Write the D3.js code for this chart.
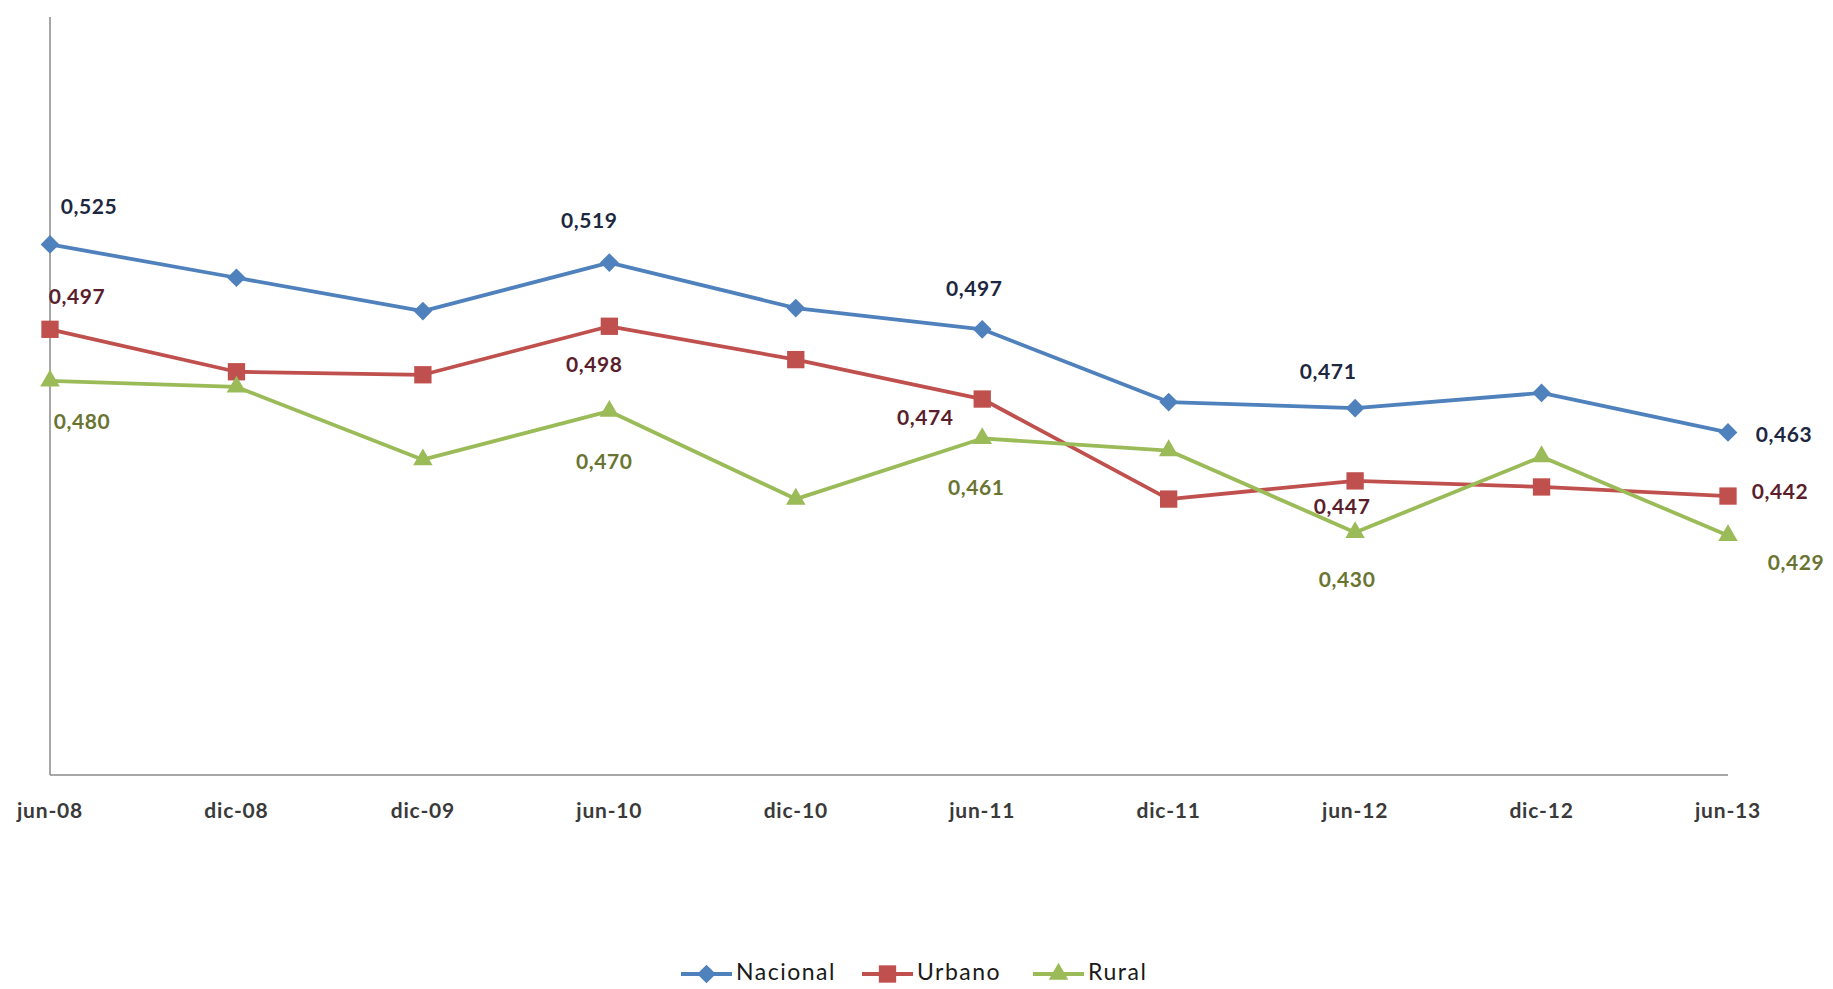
<!DOCTYPE html>
<html>
<head>
<meta charset="utf-8">
<script src="https://cdn.jsdelivr.net/npm/d3@7/dist/d3.min.js"></script>
<style>
  body { margin: 0; background: #fff; }
  svg { display: block; font-family: Lato, "Open Sans", sans-serif; }
</style>
</head>
<body>
<svg id="chart" width="1833" height="989"></svg>
<script>
var periods = ["jun-08", "dic-08", "dic-09", "jun-10", "dic-10", "jun-11", "dic-11", "jun-12", "dic-12", "jun-13"];
var nacional = [0.525, 0.514, 0.503, 0.519, 0.504, 0.497, 0.473, 0.471, 0.476, 0.463];
var urbano   = [0.497, 0.483, 0.482, 0.498, 0.487, 0.474, 0.441, 0.447, 0.445, 0.442];
var rural    = [0.480, 0.478, 0.454, 0.470, 0.441, 0.461, 0.457, 0.430, 0.455, 0.429];
var seriesNames = ["Nacional", "Urbano", "Rural"];
var labeledIdx = [0, 3, 5, 7, 9];

var svg = d3.select("#chart");
var plotLeft = 50, plotRight = 1728, plotTop = 17, plotBottom = 775;

var x = d3.scalePoint().domain(periods).range([plotLeft, plotRight]);
var y = d3.scaleLinear().domain([0.35, 0.6]).range([plotBottom, plotTop]);

var colors = ["#4F81BD", "#C0504D", "#9BBB59"];
var labelColors = ["#1c2740", "#5a1e2c", "#6a7431"];
var fmt = d3.formatLocale({ decimal: ",", thousands: ".", grouping: [3], currency: ["", ""] }).format(".3f");

// label offsets (dx, dy) relative to point, per series
var offsets = [
  [[39, -36], [-20, -40], [-8, -39], [-27, -35], [56, 4]],
  [[27, -31], [-15, 40], [-57, 21], [-13, 28], [52, -2]],
  [[32, 43], [-5, 52], [-6, 51], [-8, 49], [68, 29]]
];

var symbols = [
  d3.symbol().type(d3.symbolSquare).size(175),
  d3.symbol().type(d3.symbolSquare).size(300),
  d3.symbol().type(d3.symbolTriangle).size(165)
];
var rot = [45, 0, 0];

// axes
svg.append("line").attr("x1", plotLeft).attr("x2", plotLeft).attr("y1", plotTop).attr("y2", plotBottom)
  .attr("stroke", "#8a8a8a").attr("stroke-width", 1.5);
svg.append("line").attr("x1", plotLeft).attr("x2", plotRight).attr("y1", plotBottom).attr("y2", plotBottom)
  .attr("stroke", "#8a8a8a").attr("stroke-width", 1.5);

svg.selectAll(".tick-label")
  .data(periods)
  .enter()
  .append("text")
  .attr("class", "tick-label")
  .attr("x", function (d) { return x(d); })
  .attr("y", 813)
  .attr("text-anchor", "middle")
  .attr("dominant-baseline", "middle")
  .attr("font-size", "21px")
  .attr("font-weight", "bold")
  .attr("letter-spacing", "0.8px")
  .attr("fill", "#3a3a3a")
  .text(function (d) { return d; });

var allSeries = [nacional, urbano, rural];
var line = d3.line()
  .x(function (d, i) { return x(periods[i]); })
  .y(function (d) { return y(d); });

allSeries.forEach(function (vals, s) {
  var g = svg.append("g");
  g.append("path")
    .attr("d", line(vals))
    .attr("fill", "none")
    .attr("stroke", colors[s])
    .attr("stroke-width", 3.8)
    .attr("stroke-linejoin", "round");
  g.selectAll("path.marker")
    .data(vals)
    .enter()
    .append("path")
    .attr("class", "marker")
    .attr("d", symbols[s])
    .attr("transform", function (d, i) {
      return "translate(" + x(periods[i]) + "," + y(d) + ") rotate(" + rot[s] + ")";
    })
    .attr("fill", colors[s]);
  g.selectAll("text")
    .data(labeledIdx)
    .enter()
    .append("text")
    .attr("x", function (i, k) { return x(periods[i]) + offsets[s][k][0]; })
    .attr("y", function (i, k) { return y(vals[i]) + offsets[s][k][1]; })
    .attr("text-anchor", "middle")
    .attr("dominant-baseline", "middle")
    .attr("font-size", "21px")
    .attr("font-weight", "bold")
    .attr("letter-spacing", "0.6px")
    .attr("fill", labelColors[s])
    .text(function (i) { return fmt(vals[i]); });
});

// legend
var legendX = [681, 862, 1033];
var legendY = 974;
seriesNames.forEach(function (name, s) {
  var lg = svg.append("g").attr("transform", "translate(" + legendX[s] + "," + legendY + ")");
  lg.append("line").attr("x1", 0).attr("x2", 51).attr("y1", 0).attr("y2", 0)
    .attr("stroke", colors[s]).attr("stroke-width", 3.8);
  lg.append("path").attr("d", symbols[s])
    .attr("transform", "translate(25.5,0) rotate(" + rot[s] + ")")
    .attr("fill", colors[s]);
  lg.append("text").attr("x", 55).attr("y", 0)
    .attr("dominant-baseline", "middle")
    .attr("font-size", "23px")
    .attr("letter-spacing", "1.5px")
    .attr("fill", "#1a1a1a")
    .text(name);
});
</script>
</body>
</html>
